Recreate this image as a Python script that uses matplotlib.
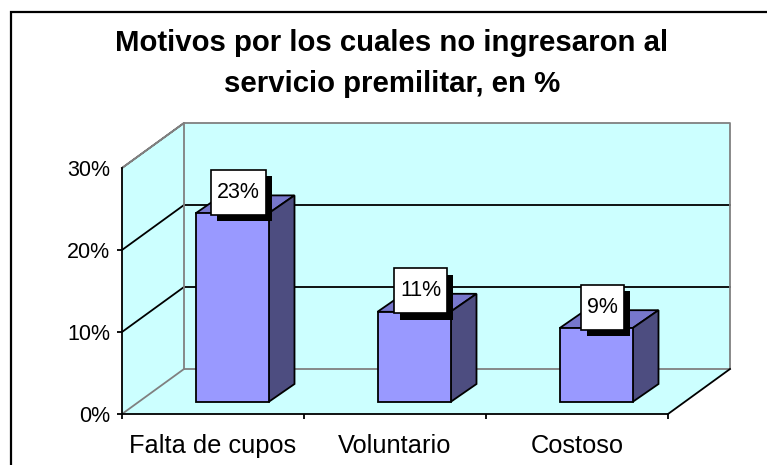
"""Motivos por los cuales no ingresaron al servicio premilitar."""
import matplotlib.pyplot as plt
from matplotlib.lines import Line2D
from matplotlib.patches import Polygon
from matplotlib.path import Path
from matplotlib.patheffects import Normal, SimplePatchShadow

plt.rcParams["font.family"] = ["Liberation Sans", "DejaVu Sans"]

categories = ["Falta de cupos", "Voluntario", "Costoso"]
values = [23, 11, 9]
y_ticks = [0, 10, 20, 30]
title_text = "Motivos por los cuales no ingresaron al\nservicio premilitar, en %"

WALL = "#CCFFFF"
BAR_FRONT = "#9999FF"
BAR_TOP = "#7777CC"
BAR_SIDE = "#4D4D80"
GRAY = "#808080"

# depth of the fake 3d box, in data units (182 px per category, 8.2 px per %)
DEPTH_X = 62 / 182
DEPTH_Y = 45 / 8.2
BAR_WIDTH = 73 / 182
BAR_DEPTH_X = 26 / 182
BAR_DEPTH_Y = 18 / 8.2
BAR_SHIFT_X = 19 / 182
BAR_SHIFT_Y = 12 / 8.2
LINE = 1.3


def tall_box(x0, y0, width, height, mutation_size):
    """Label box, taller than the text like the original one."""
    pad_x, pad_y = 6, 12
    x0, x1 = x0 - pad_x, x0 + width + pad_x
    y0, y1 = y0 - pad_y, y0 + height + pad_y
    return Path(
        [(x0, y0), (x1, y0), (x1, y1), (x0, y1), (x0, y0)],
        closed=True,
    )


def poly(ax, points, face, edge="black", zorder=2):
    ax.add_patch(
        Polygon(points, closed=True, facecolor=face, edgecolor=edge,
                linewidth=LINE, clip_on=False, zorder=zorder, joinstyle="miter")
    )


def line(ax, xs, ys, color="black", zorder=3):
    ax.plot(xs, ys, color=color, linewidth=LINE, clip_on=False, zorder=zorder,
            solid_capstyle="projecting")


fig = plt.figure(figsize=(7.67, 4.65), dpi=100)
ax = fig.add_axes([122 / 767, 1 - 414 / 465, 546 / 767, 246 / 465])
n = len(categories)
y_top = y_ticks[-1]
ax.set_xlim(0, n)
ax.set_ylim(0, y_top)
ax.patch.set_visible(False)

# outer frame, only left and top are inside the picture
fig.add_artist(
    Line2D([11 / 767, 11 / 767, 1], [0, 1 - 12 / 465, 1 - 12 / 465],
           transform=fig.transFigure, color="black", linewidth=1.6,
           solid_joinstyle="miter")
)

# walls and floor
poly(ax, [(0, 0), (DEPTH_X, DEPTH_Y), (DEPTH_X, y_top + DEPTH_Y), (0, y_top)], WALL, "none", 1)
poly(ax, [(DEPTH_X, DEPTH_Y), (n + DEPTH_X, DEPTH_Y), (n + DEPTH_X, y_top + DEPTH_Y),
          (DEPTH_X, y_top + DEPTH_Y)], WALL, "none", 1)
poly(ax, [(0, 0), (n, 0), (n + DEPTH_X, DEPTH_Y), (DEPTH_X, DEPTH_Y)], WALL, "none", 1)

# grid lines on both walls
for tick in y_ticks[1:-1]:
    line(ax, [0, DEPTH_X, n + DEPTH_X], [tick, tick + DEPTH_Y, tick + DEPTH_Y])

# gray wall edges
line(ax, [0, DEPTH_X, n + DEPTH_X, n + DEPTH_X, DEPTH_X, DEPTH_X, 0],
     [y_top, y_top + DEPTH_Y, y_top + DEPTH_Y, DEPTH_Y, DEPTH_Y, y_top + DEPTH_Y, y_top], GRAY)
line(ax, [0, DEPTH_X], [0, DEPTH_Y], GRAY)
line(ax, [n, n + DEPTH_X], [0, DEPTH_Y])

# bars
for i, value in enumerate(values):
    x0 = i + 0.5 + BAR_SHIFT_X - BAR_WIDTH / 2
    x1 = x0 + BAR_WIDTH
    y0 = BAR_SHIFT_Y
    y1 = y0 + value
    poly(ax, [(x0, y1), (x1, y1), (x1 + BAR_DEPTH_X, y1 + BAR_DEPTH_Y),
              (x0 + BAR_DEPTH_X, y1 + BAR_DEPTH_Y)], BAR_TOP, zorder=4)
    poly(ax, [(x1, y0), (x1 + BAR_DEPTH_X, y0 + BAR_DEPTH_Y),
              (x1 + BAR_DEPTH_X, y1 + BAR_DEPTH_Y), (x1, y1)], BAR_SIDE, zorder=4)
    poly(ax, [(x0, y0), (x1, y0), (x1, y1), (x0, y1)], BAR_FRONT, zorder=5)

    label = ax.annotate(
        f"{value}%", xy=((x0 + x1) / 2, y1), xytext=(4.7, 15), textcoords="offset points",
        ha="center", va="center", fontsize=15.5, zorder=7,
        bbox=dict(boxstyle=tall_box, facecolor="white", edgecolor="black", linewidth=1.2),
    )
    label.get_bbox_patch().set_path_effects(
        [SimplePatchShadow(offset=(4, -4.5), shadow_rgbFace="black", alpha=1), Normal()]
    )

# axes
for side in ("top", "right"):
    ax.spines[side].set_visible(False)
for side in ("left", "bottom"):
    ax.spines[side].set_linewidth(LINE)
    ax.spines[side].set_zorder(6)
ax.set_yticks(y_ticks)
ax.set_yticklabels([f"{t}%" for t in y_ticks], fontsize=15.5)
ax.yaxis.get_major_ticks()[-1].tick1line.set_visible(False)
ax.set_xticks(range(n + 1))
ax.set_xticklabels([])
ax.set_xticks([i + 0.5 for i in range(n)], categories, minor=True, fontsize=18.3)
ax.tick_params(axis="both", which="major", length=3.6, width=LINE)
ax.tick_params(axis="y", which="major", pad=5)
ax.tick_params(axis="x", which="minor", length=0, pad=14.5)

fig.text(392 / 767, 1 - 63.5 / 465, title_text, ha="center", va="center",
         fontsize=21.2, fontweight="bold", linespacing=1.6)

plt.savefig("out.png", dpi=100)
plt.close()
